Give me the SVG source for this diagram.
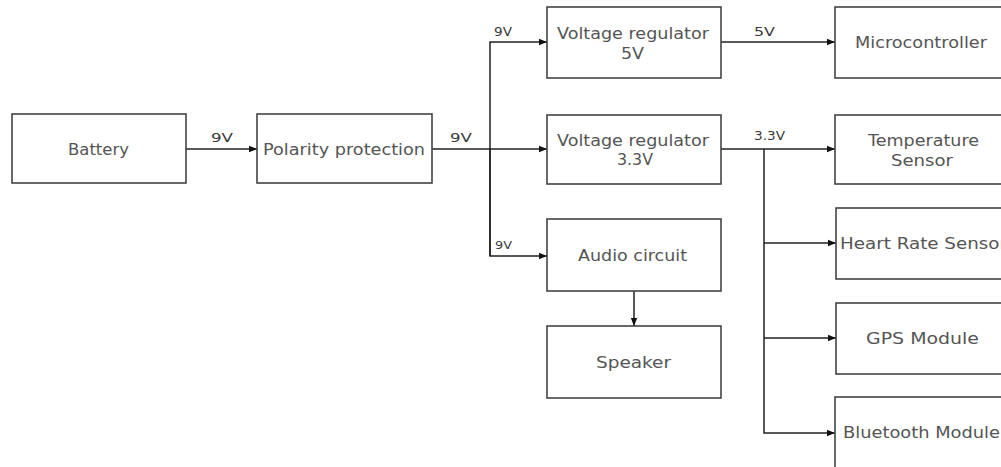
<svg xmlns="http://www.w3.org/2000/svg" width="1001" height="467" viewBox="0 0 1001 467">
<style>
.box{fill:#fff;stroke:#444;stroke-width:1.6}
.t{font-family:"DejaVu Sans",Verdana,sans-serif;font-size:15px;fill:#555}
.l{font-family:"DejaVu Sans",Verdana,sans-serif;font-size:11.5px;fill:#3a3a3a}
.c{fill:none;stroke:#222;stroke-width:1.5}
</style>
<defs>
<marker id="ah" viewBox="0 0 10 10" refX="10" refY="5" markerWidth="8" markerHeight="8" markerUnits="userSpaceOnUse" orient="auto">
<path d="M0,1 L10,5 L0,9 Z" fill="#111"/>
</marker>
</defs>
<rect width="1001" height="467" fill="#fff"/>
<g id="connectors">
<path class="c" d="M186,149 H257" marker-end="url(#ah)"/>
<path class="c" d="M432,149 H547" marker-end="url(#ah)"/>
<path class="c" d="M490,256 V42 H547" marker-end="url(#ah)"/>
<path class="c" d="M490,149 V256 H547" marker-end="url(#ah)"/>
<path class="c" d="M721,42 H835" marker-end="url(#ah)"/>
<path class="c" d="M721,149 H835" marker-end="url(#ah)"/>
<path class="c" d="M764,149 V433 H835" marker-end="url(#ah)"/>
<path class="c" d="M764,243 H836" marker-end="url(#ah)"/>
<path class="c" d="M764,338 H836" marker-end="url(#ah)"/>
<path class="c" d="M634,291 V326" marker-end="url(#ah)"/>
<text class="l" x="211" y="141.5" textLength="22" lengthAdjust="spacingAndGlyphs">9V</text>
<text class="l" x="450" y="141.5" textLength="22" lengthAdjust="spacingAndGlyphs">9V</text>
<text class="l" x="494" y="35.5" textLength="18" lengthAdjust="spacingAndGlyphs">9V</text>
<text class="l" x="754" y="35.5" textLength="21" lengthAdjust="spacingAndGlyphs">5V</text>
<text class="l" x="754" y="139.5" textLength="31" lengthAdjust="spacingAndGlyphs">3.3V</text>
<text class="l" x="495" y="249" textLength="17" lengthAdjust="spacingAndGlyphs" style="font-size:10px">9V</text>
</g>
<g id="battery">
<rect class="box" x="12" y="114" width="174" height="69"/>
<text class="t" x="68" y="154.5" textLength="61" lengthAdjust="spacingAndGlyphs">Battery</text>
</g>
<g id="polarity">
<rect class="box" x="257" y="114" width="175" height="69"/>
<text class="t" x="263" y="154.5" textLength="162" lengthAdjust="spacingAndGlyphs">Polarity protection</text>
</g>
<g id="vreg5">
<rect class="box" x="547" y="7" width="174" height="71"/>
<text class="t" x="557" y="38.5" textLength="152" lengthAdjust="spacingAndGlyphs">Voltage regulator</text>
<text class="t" x="621" y="58.5" textLength="23" lengthAdjust="spacingAndGlyphs">5V</text>
</g>
<g id="vreg33">
<rect class="box" x="547" y="115" width="174" height="69"/>
<text class="t" x="557" y="145.5" textLength="152" lengthAdjust="spacingAndGlyphs">Voltage regulator</text>
<text class="t" x="617" y="164.5" textLength="36" lengthAdjust="spacingAndGlyphs">3.3V</text>
</g>
<g id="audio">
<rect class="box" x="547" y="219" width="174" height="72"/>
<text class="t" x="578" y="260.5" textLength="109" lengthAdjust="spacingAndGlyphs">Audio circuit</text>
</g>
<g id="speaker">
<rect class="box" x="547" y="326" width="174" height="72"/>
<text class="t" x="596" y="367.5" textLength="75" lengthAdjust="spacingAndGlyphs">Speaker</text>
</g>
<g id="microcontroller">
<rect class="box" x="835" y="7" width="174" height="71"/>
<text class="t" x="855" y="47.5" textLength="132" lengthAdjust="spacingAndGlyphs">Microcontroller</text>
</g>
<g id="temperature">
<rect class="box" x="835" y="115" width="174" height="69"/>
<text class="t" x="868" y="145.5" textLength="111" lengthAdjust="spacingAndGlyphs">Temperature</text>
<text class="t" x="891" y="165.5" textLength="62" lengthAdjust="spacingAndGlyphs">Sensor</text>
</g>
<g id="heartrate">
<rect class="box" x="836" y="208" width="174" height="71"/>
<text class="t" x="840" y="248.5" textLength="167" lengthAdjust="spacingAndGlyphs">Heart Rate Sensor</text>
</g>
<g id="gps">
<rect class="box" x="836" y="303" width="174" height="71"/>
<text class="t" x="866" y="343.5" textLength="113" lengthAdjust="spacingAndGlyphs">GPS Module</text>
</g>
<g id="bluetooth">
<rect class="box" x="835" y="397" width="174" height="72"/>
<text class="t" x="843" y="437.5" textLength="157" lengthAdjust="spacingAndGlyphs">Bluetooth Module</text>
</g>
</svg>
